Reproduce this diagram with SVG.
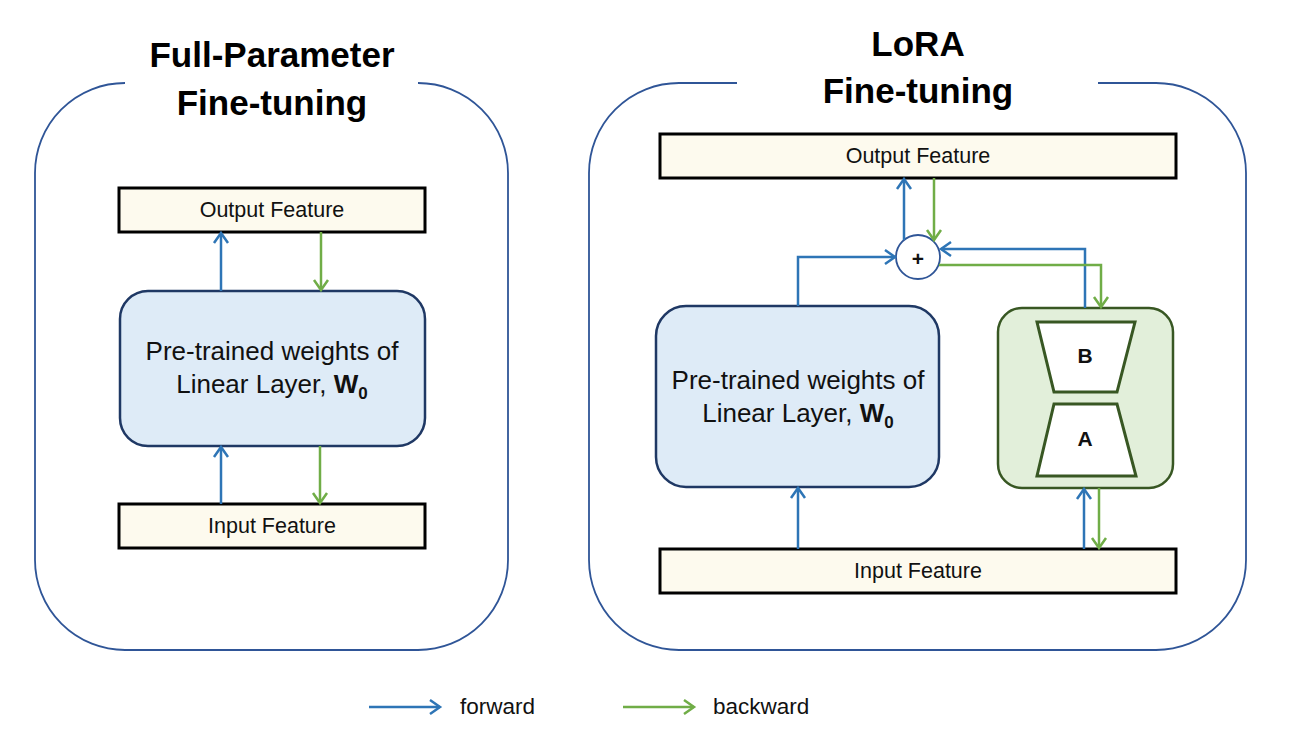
<svg xmlns="http://www.w3.org/2000/svg" width="1291" height="738" viewBox="0 0 1291 738">
<defs>
<marker id="ab" markerUnits="userSpaceOnUse" markerWidth="16" markerHeight="18" viewBox="0 0 16 18" refX="13" refY="9" orient="auto">
<path d="M3,2 L13,9 L3,16" fill="none" stroke="#2e75b6" stroke-width="2.5"/>
</marker>
<marker id="ag" markerUnits="userSpaceOnUse" markerWidth="16" markerHeight="18" viewBox="0 0 16 18" refX="13" refY="9" orient="auto">
<path d="M3,2 L13,9 L3,16" fill="none" stroke="#70ad47" stroke-width="2.5"/>
</marker>
</defs>
<style>
.cont{fill:none;stroke:#2f5597;stroke-width:1.8}
.title{font-family:"Liberation Sans",Arial,sans-serif;font-weight:bold;font-size:35px;fill:#000;text-anchor:middle}
.feat{fill:#fdfaee;stroke:#000;stroke-width:3}
.ft{font-family:"Liberation Sans",Arial,sans-serif;font-size:21.5px;fill:#111;text-anchor:middle}
.pre{fill:#deebf7;stroke:#1f3864;stroke-width:2.5}
.pt{font-family:"Liberation Sans",Arial,sans-serif;font-size:26px;fill:#111;text-anchor:middle}
.lora{fill:#e2efda;stroke:#385723;stroke-width:2.5}
.trap{fill:#fff;stroke:#385723;stroke-width:3}
.lt{font-family:"Liberation Sans",Arial,sans-serif;font-weight:bold;font-size:21px;fill:#111;text-anchor:middle}
.fw{fill:none;stroke:#2e75b6;stroke-width:2.5;marker-end:url(#ab)}
.bw{fill:none;stroke:#70ad47;stroke-width:2.5;marker-end:url(#ag)}
.leg{font-family:"Liberation Sans",Arial,sans-serif;font-size:22.5px;fill:#111}
</style>
<rect width="1291" height="738" fill="#fff"/>

<g id="full-container">
<path class="cont" d="M125,83 A90,90 0 0 0 35,173 L35,560 A90,90 0 0 0 125,650 L418,650 A90,90 0 0 0 508,560 L508,173 A90,90 0 0 0 418,83"/>
<text class="title" x="272" y="67">Full-Parameter</text>
<text class="title" x="272" y="115">Fine-tuning</text>
</g>

<g id="lora-container">
<path class="cont" d="M737,83 L679,83 A90,90 0 0 0 589,173 L589,560 A90,90 0 0 0 679,650 L1156,650 A90,90 0 0 0 1246,560 L1246,173 A90,90 0 0 0 1156,83 L1098,83"/>
<text class="title" x="918" y="56">LoRA</text>
<text class="title" x="918" y="103">Fine-tuning</text>
</g>

<g id="left-output">
<rect class="feat" x="119" y="188" width="306" height="44"/>
<text class="ft" x="272" y="217">Output Feature</text>
</g>
<g id="left-pretrained">
<rect class="pre" x="120" y="291" width="305" height="155" rx="28"/>
<text class="pt" x="272" y="360">Pre-trained weights of</text>
<text class="pt" x="272" y="393">Linear Layer, <tspan font-weight="bold">W</tspan><tspan font-weight="bold" font-size="17px" dy="6">0</tspan></text>
</g>
<g id="left-input">
<rect class="feat" x="119" y="504" width="306" height="44"/>
<text class="ft" x="272" y="533">Input Feature</text>
</g>

<g id="right-output">
<rect class="feat" x="660" y="134" width="516" height="44"/>
<text class="ft" x="918" y="163">Output Feature</text>
</g>
<g id="plus">
<circle cx="918" cy="257" r="22" fill="#fff" stroke="#2f5597" stroke-width="1.8"/>
<text class="lt" x="918" y="266" font-size="26px">+</text>
</g>
<g id="right-pretrained">
<rect class="pre" x="656" y="306" width="283" height="181" rx="30"/>
<text class="pt" x="798" y="389">Pre-trained weights of</text>
<text class="pt" x="798" y="422">Linear Layer, <tspan font-weight="bold">W</tspan><tspan font-weight="bold" font-size="17px" dy="6">0</tspan></text>
</g>
<g id="lora-adapter">
<rect class="lora" x="998" y="308" width="175" height="180" rx="24"/>
<polygon class="trap" points="1037,322 1135,322 1117,392 1054,392"/>
<polygon class="trap" points="1054,404 1117,404 1136,476 1037,476"/>
<text class="lt" x="1085" y="363">B</text>
<text class="lt" x="1085" y="446">A</text>
</g>
<g id="right-input">
<rect class="feat" x="660" y="549" width="516" height="44"/>
<text class="ft" x="918" y="578">Input Feature</text>
</g>

<g id="connectors">
<path class="fw" d="M221,291 L221,233"/>
<path class="bw" d="M321,232 L321,290"/>
<path class="fw" d="M221,504 L221,447"/>
<path class="bw" d="M320,446 L320,503"/>

<path class="fw" d="M798,306 L798,257 L895,257"/>
<path class="fw" d="M904,240 L904,179"/>
<path class="bw" d="M934,178 L934,240"/>
<path class="fw" d="M1085,308 L1085,249 L941,249"/>
<path class="bw" d="M939,265 L1101,265 L1101,307"/>
<path class="fw" d="M798,549 L798,488"/>
<path class="fw" d="M1084,549 L1084,489"/>
<path class="bw" d="M1099,488 L1099,548"/>
</g>

<g id="legend">
<path class="fw" d="M369,707 L440,707"/>
<text class="leg" x="460" y="714">forward</text>
<path class="bw" d="M623,707 L694,707"/>
<text class="leg" x="713" y="714">backward</text>
</g>
</svg>
